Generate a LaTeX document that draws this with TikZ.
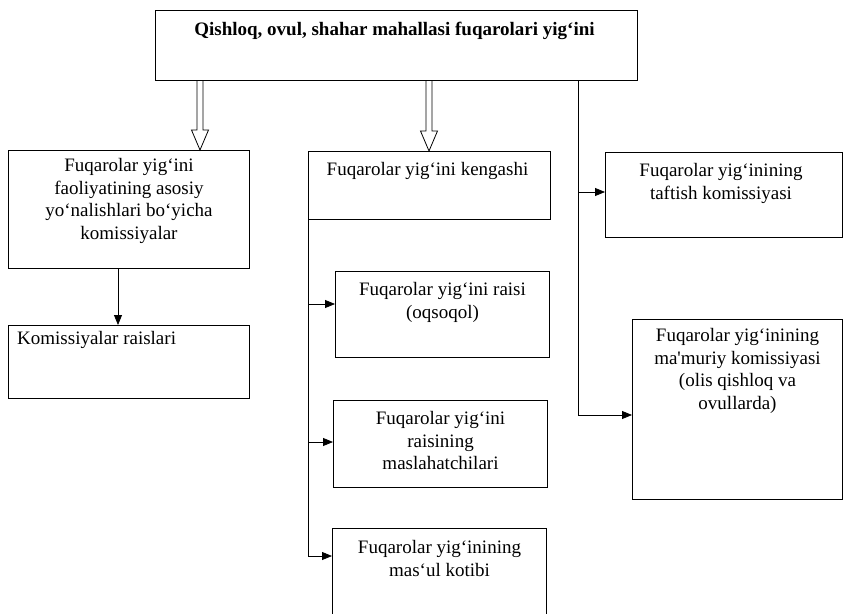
\documentclass[tikz,border=0pt]{standalone}
\usepackage{fontspec}
\setmainfont{Liberation Serif}
\usetikzlibrary{arrows.meta,calc}
\tikzset{
  box/.style={draw=black, line width=1pt, rectangle, inner sep=0pt, anchor=north west},
  txt/.style={inner sep=0pt, anchor=north, align=center, font=\fontsize{19}{22.8}\selectfont},
  conn/.style={draw=black, line width=0.8pt},
  arr/.style={conn, -{Triangle[length=10pt,width=8pt]}},
}
\newcommand\hollowarrow[2]{%
  \draw[conn, line join=miter] ([xshift=-3pt]#1) -- ([xshift=-3pt,yshift=20pt]#2)
    -- ([xshift=-8.5pt,yshift=20pt]#2) -- (#2) -- ([xshift=8.5pt,yshift=20pt]#2)
    -- ([xshift=3pt,yshift=20pt]#2) -- ([xshift=3pt]#1);}
\begin{document}
\begin{tikzpicture}[x=1pt,y=-1pt]
\useasboundingbox[fill=white] (0,0) rectangle (843,613);
\begin{scope}
\clip (0,0) rectangle (843,613);
% boxes
\node[box, minimum width=482pt, minimum height=70pt] (top) at (155,10) {};
\node[box, minimum width=241pt, minimum height=118pt] (l1) at (8,150) {};
\node[box, minimum width=241pt, minimum height=73pt] (l2) at (8,325) {};
\node[box, minimum width=242pt, minimum height=68pt] (m1) at (308,151) {};
\node[box, minimum width=214pt, minimum height=86pt] (m2) at (335,271) {};
\node[box, minimum width=214pt, minimum height=87pt] (m3) at (333,400) {};
\node[box, minimum width=214pt, minimum height=100pt] (m4) at (332,528) {};
\node[box, minimum width=237pt, minimum height=85pt] (r1) at (605,152) {};
\node[box, minimum width=210pt, minimum height=180pt] (r2) at (632,319) {};
% texts
\node[txt, font=\fontsize{19}{22.8}\selectfont\bfseries] (ttop) at ($(top.north)+(-2,12)$) {Qishloq, ovul, shahar mahallasi fuqarolari yig‘ini};
\node[txt] (tl1) at ($(l1.north)+(0,8)$) {Fuqarolar yig‘ini\\faoliyatining asosiy\\yo‘nalishlari bo‘yicha\\komissiyalar};
\node[txt, anchor=north west, align=left] (tl2) at ($(l2.north west)+(9,6)$) {Komissiyalar raislari};
\node[txt] (tm1) at ($(m1.north)+(-2,11)$) {Fuqarolar yig‘ini kengashi};
\node[txt] (tm2) at ($(m2.north)+(0,11)$) {Fuqarolar yig‘ini raisi\\(oqsoqol)};
\node[txt] (tm3) at ($(m3.north)+(0,11)$) {Fuqarolar yig‘ini\\raisining\\maslahatchilari};
\node[txt] (tm4) at ($(m4.north)+(0,12)$) {Fuqarolar yig‘inining\\mas‘ul kotibi};
\node[txt] (tr1) at ($(r1.north)+(-3,11)$) {Fuqarolar yig‘inining\\taftish komissiyasi};
\node[txt] (tr2) at ($(r2.north)+(0,9)$) {Fuqarolar yig‘inining\\ma\textquotesingle muriy komissiyasi\\(olis qishloq va\\ovullarda)};
% hollow arrows
\coordinate (h1s) at ($(top.south west)+(45,0)$);
\coordinate (h1e) at (h1s |- l1.north);
\hollowarrow{h1s}{h1e}
\coordinate (h2s) at ($(top.south west)+(274,0)$);
\coordinate (h2e) at (h2s |- m1.north);
\hollowarrow{h2s}{h2e}
% left arrow
\coordinate (l1out) at ($(l1.south west)+(110,0)$);
\draw[arr] (l1out) -- (l1out |- l2.north);
% middle branch
\coordinate (m2in) at ($(m2.north west)+(0,33)$);
\coordinate (m3in) at ($(m3.north west)+(0,42)$);
\coordinate (m4in) at ($(m4.north west)+(0,28)$);
\draw[conn] (m1.south west) -- (m1.south west |- m4in);
\draw[arr] (m1.south west |- m2in) -- (m2in);
\draw[arr] (m1.south west |- m3in) -- (m3in);
\draw[arr] (m1.south west |- m4in) -- (m4in);
% right branch
\coordinate (rs) at ($(top.south west)+(423,0)$);
\coordinate (r1in) at ($(r1.north west)+(0,40)$);
\coordinate (r2in) at ($(r2.north west)+(0,96)$);
\draw[arr] (rs) |- (r2in);
\draw[arr] (rs |- r1in) -- (r1in);
\end{scope}
\end{tikzpicture}
\end{document}
